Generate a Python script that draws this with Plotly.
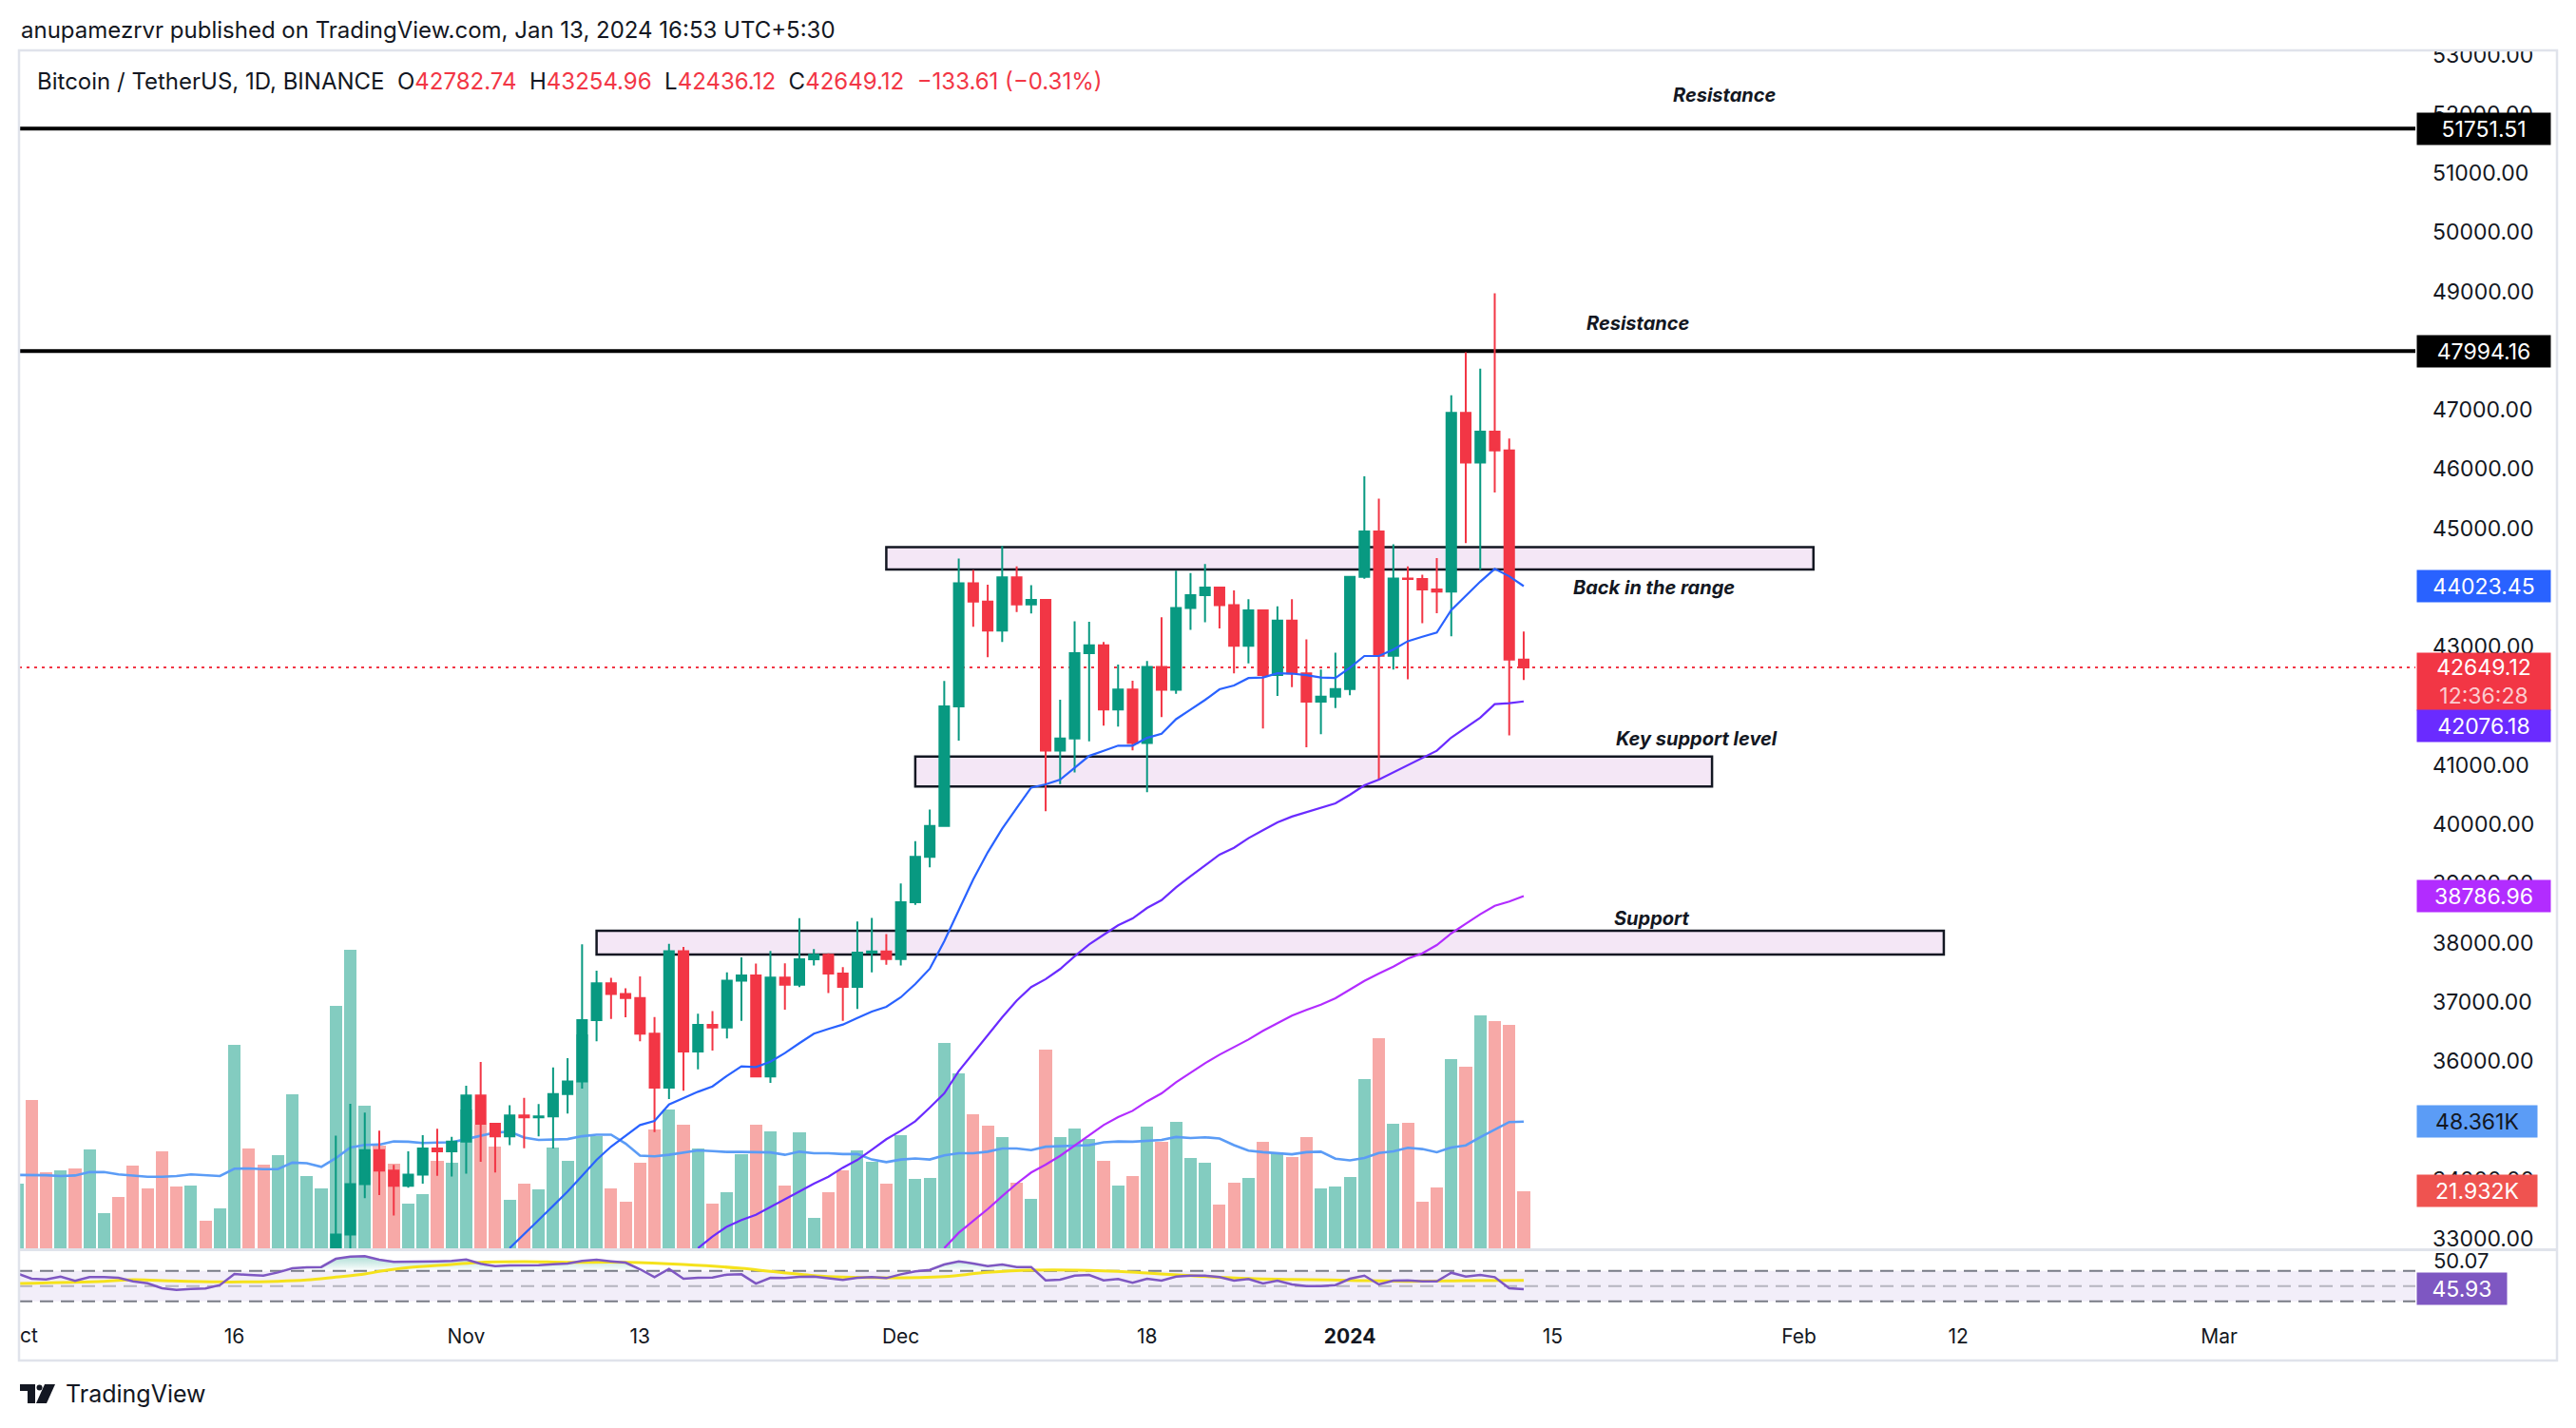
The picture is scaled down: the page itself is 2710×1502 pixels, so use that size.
import pandas as pd
import plotly.graph_objects as go

# ---------------------------
# page geometry (px) - plot area edges inside the 2710x1502 page
# ---------------------------
W, H = 2710, 1502
L, R, T, B = 20, 2541, 55, 1395
VOL_PX = 0.363          # volume (K) per pixel in the price pane
PANE_BOTTOM = 1313      # bottom of price pane
RSI_TOP = 1315


def px(x):
    return (x - L) / (R - L)


def py(y):
    return (B - y) / (B - T)


FONT = "Inter, Roboto, sans-serif"
GREEN = "#089981"
RED = "#f23645"
TXT = "#131722"

# ---------------------------
# data: BTCUSDT daily, Oct 1 2023 - Jan 13 2024
# ---------------------------
dates = pd.date_range("2023-10-01", "2024-01-13", freq="D")

opens = [
    26962, 27983, 27505, 27429, 27794, 27410, 27931, 27956, 27917, 27590,
    27392, 26875, 26757, 26862, 26852, 27154, 28500, 28395, 28320, 28713,
    29669, 29909, 29992, 33069, 33922, 34496, 34152, 33892, 34081, 34525,
    34474,
    34639, 35421, 34941, 34730, 35083, 35048, 35065, 35443, 35655, 36693,
    37314, 37133, 37064, 36462, 35551, 37858, 36163, 36613, 36568, 37359,
    37448, 35741, 37409, 37290, 37720, 37796, 37479, 37254, 37832, 37854,
    37723, 38682, 39450, 39972, 41991, 44073, 43762, 43273, 44170, 43713,
    43789, 41243, 41450, 42891, 43022, 41941, 42278, 41374, 42657, 42271,
    43652, 43869, 43997, 43700, 43016, 43613, 42520, 43442, 42550, 42070,
    42156,
    42283, 44180, 44946, 42845, 44151, 44145, 43968, 43929, 46951, 46110,
    46632, 46314, 42782.74,
]
highs = [
    28065, 28580, 27668, 27830, 28120, 28295, 28000, 28100, 27987, 27735,
    27477, 26947, 27130, 26989, 27289, 30000, 28613, 28982, 28916, 30207,
    30379, 30206, 34741, 35280, 35132, 34824, 34245, 34477, 34750, 34856,
    34720,
    35582, 35984, 34945, 35255, 35380, 35275, 35892, 36050, 37972, 37526,
    37407, 37228, 37430, 36744, 37980, 37929, 36800, 36845, 37500, 37750,
    37649, 37861, 37653, 38415, 37892, 37820, 37589, 38360, 38420, 38145,
    38999, 39717, 40250, 42420, 44488, 44297, 44047, 44700, 44358, 44038,
    43804, 42104, 43430, 43420, 43080, 42700, 42424, 42757, 43497, 44283,
    44242, 44398, 43997, 43950, 43802, 43613, 43683, 43804, 43124, 42612,
    42899,
    44184, 45879, 45500, 44729, 44357, 44214, 44495, 47248, 47972, 47695,
    48969, 46516, 43254.96,
]
lows = [
    26954, 27280, 27160, 27216, 27365, 27175, 27842, 27711, 27260, 27298,
    26538, 26557, 26685, 26777, 26800, 27113, 28069, 28140, 28175, 28566,
    29481, 29664, 29883, 32832, 33684, 33737, 33391, 33860, 33930, 34062,
    34050,
    34097, 34300, 34120, 34582, 34528, 34728, 34525, 35115, 35534, 36333,
    36712, 36742, 36333, 34800, 35361, 35500, 35861, 36178, 36384, 36678,
    35735, 35632, 36868, 37251, 37617, 37150, 36681, 36882, 37500, 37629,
    37615, 38641, 39274, 39972, 41414, 43335, 42821, 43081, 43584, 43563,
    40222, 40680, 40875, 41400, 41666, 41650, 41250, 40542, 41811, 42206,
    43286, 43413, 43308, 42550, 42720, 41620, 42167, 42318, 41300, 41520,
    41965,
    42181, 44148, 40750, 42613, 42450, 43397, 43566, 43175, 44748, 44300,
    45606, 41500, 42436.12,
]
closes = [
    27983, 27505, 27429, 27794, 27410, 27931, 27956, 27917, 27590, 27392,
    26875, 26757, 26862, 26852, 27154, 28500, 28395, 28320, 28713, 29669,
    29909, 29992, 33069, 33922, 34496, 34152, 33892, 34081, 34525, 34474,
    34639,
    35421, 34941, 34730, 35083, 35048, 35065, 35443, 35655, 36693, 37314,
    37133, 37064, 36462, 35551, 37858, 36163, 36613, 36568, 37359, 37448,
    35741, 37409, 37290, 37720, 37796, 37479, 37254, 37832, 37854, 37723,
    38682, 39450, 39972, 41991, 44073, 43762, 43273, 44170, 43713, 43789,
    41243, 41450, 42891, 43022, 41941, 42278, 41374, 42657, 42271, 43652,
    43869, 43997, 43700, 43016, 43613, 42520, 43442, 42550, 42070, 42156,
    42283,
    44180, 44946, 42845, 44151, 44145, 43968, 43929, 46951, 46110, 46632,
    46314, 42782.73, 42649.12,
]
# volume, thousands of BTC
volumes = [
    24.7, 56.6, 29.0, 29.8, 30.5, 37.8, 13.4, 19.6, 31.6, 22.9,
    37.0, 23.6, 24.0, 10.5, 15.2, 77.7, 38.1, 31.9, 35.6, 58.8,
    27.6, 22.9, 92.6, 114.0, 54.5, 39.2, 32.3, 17.1, 20.7, 33.4,
    32.7,
    53.0, 47.2, 39.0, 18.6, 24.8, 22.6, 38.6, 33.5, 81.7, 42.9,
    23.0, 17.9, 32.8, 45.5, 53.1, 47.3, 38.2, 17.2, 21.5, 36.0,
    47.3, 44.8, 24.1, 44.4, 11.7, 21.5, 29.9, 37.5, 33.1, 24.8,
    43.3, 26.6, 27.0, 78.5, 66.9, 51.3, 46.9, 42.6, 25.2, 19.0,
    76.0, 42.6, 45.6, 41.6, 33.3, 23.8, 27.5, 46.4, 40.5, 48.2,
    34.4, 32.6, 16.6, 24.9, 26.8, 40.5, 36.3, 34.7, 42.4, 22.8,
    23.5,
    27.1, 64.5, 80.1, 47.4, 47.8, 17.7, 23.1, 72.1, 69.2, 88.8,
    86.6, 85.2, 21.932,
]
vol_ma = [
    28.0, 28.0, 27.9, 27.6, 27.8, 29.1, 29.1, 28.2, 27.8, 27.3,
    27.3, 27.6, 28.2, 28.0, 27.6, 30.4, 30.5, 30.2, 30.2, 32.7,
    32.5, 31.1, 34.4, 38.5, 39.5, 39.6, 40.8, 40.7, 40.2, 40.4,
    40.5,
    41.7, 42.9, 44.2, 44.5, 42.3, 41.4, 41.5, 41.7, 42.8, 43.4,
    43.4, 40.0, 35.4, 35.1, 35.7, 36.6, 37.4, 37.1, 36.8, 36.8,
    36.8, 36.6, 35.7, 36.9, 36.3, 36.3, 36.0, 36.0, 33.9, 32.9,
    33.9, 34.3, 33.9, 35.5, 36.3, 36.3, 36.9, 38.1, 38.1, 37.5,
    38.8, 39.0, 39.3, 39.4, 40.5, 40.8, 40.7, 41.0, 41.4, 42.5,
    42.1, 42.4, 41.9, 39.4, 37.3, 36.7, 36.2, 35.9, 36.7, 36.9,
    34.2,
    33.6, 34.5, 36.4, 37.0, 38.4, 37.9, 36.7, 38.5, 39.3, 42.4,
    45.4, 48.2, 48.361,
]

ema20_start = "2023-11-04"
ema20 = [
    32840, 33070, 33315, 33555, 33797, 34063, 34332, 34556, 34733, 34920,
    34990, 35267, 35375, 35482, 35573, 35750, 35910, 35900, 35990, 36135,
    36302, 36462, 36543, 36617, 36730, 36837, 36917,
    37078, 37303, 37560, 38026, 38560, 39070, 39525, 39925, 40275, 40620,
    40675, 40755, 40955, 41155, 41242, 41328, 41328, 41460, 41530, 41775,
    41937, 42100, 42280, 42345, 42470, 42480, 42550, 42545, 42518, 42480,
    42470,
    42644, 42843, 42843, 42952, 43093, 43168, 43240, 43620, 43864, 44098,
    44315, 44190, 44023.45,
]
ema50_start = "2023-11-17"
ema50 = [
    32840, 33035, 33205, 33315, 33405, 33540, 33665, 33797, 33930, 34047,
    34200, 34330, 34503, 34680,
    34823, 34984, 35215, 35455, 35830, 36130, 36430, 36740, 37020, 37250,
    37385, 37555, 37770, 37972, 38133, 38293, 38410, 38587, 38720, 38935,
    39122, 39310, 39487, 39604, 39765, 39900, 40033, 40130, 40205, 40273,
    40354,
    40498, 40659, 40755, 40880, 41005, 41125, 41242, 41465, 41638, 41800,
    42030, 42046, 42076.18,
]
ema100_start = "2023-12-04"
ema100 = [
    32840, 33100, 33300, 33500, 33720, 33930, 34118, 34250, 34400, 34573,
    34760, 34920, 35054, 35160, 35320, 35455, 35643, 35803, 35964, 36108,
    36231, 36365, 36510, 36644, 36767, 36863, 36954, 37061,
    37206, 37355, 37479, 37596, 37731, 37820, 37960, 38158, 38319, 38480,
    38624, 38695, 38786.96,
]

rsi = [
    66.7, 59.6, 58.8, 62.5, 56.7, 61.7, 61.7, 60.8, 56.2, 53.7,
    47.1, 45.0, 46.2, 46.7, 51.2, 65.8, 64.6, 63.7, 67.9, 73.3,
    74.6, 75.0, 85.8, 88.7, 89.2, 84.6, 81.7, 81.7, 82.5, 82.5,
    82.9,
    85.0, 79.2, 76.2, 77.1, 77.1, 77.5, 78.7, 79.6, 82.9, 84.6,
    82.5, 80.8, 72.1, 61.7, 72.5, 59.6, 60.8, 61.2, 65.0, 65.4,
    53.3, 60.8, 60.4, 62.1, 62.5, 60.4, 57.9, 60.8, 61.7, 60.4,
    65.4, 69.2, 71.2, 78.3, 82.5, 79.6, 76.2, 78.3, 75.0, 75.0,
    57.5, 58.3, 63.7, 64.6, 57.5, 59.2, 54.2, 59.6, 57.1, 62.5,
    63.7, 63.7, 61.7, 57.1, 59.2, 53.3, 57.1, 52.1, 50.0, 50.0,
    51.2,
    59.6, 63.7, 52.1, 57.1, 57.5, 56.2, 56.2, 67.5, 62.5, 64.6,
    61.7, 47.1, 45.93,
]
rsi_ma_day = [0, 6, 8, 10, 14, 18, 20, 22, 24, 25, 27, 30, 32, 35, 38, 42, 46,
              50, 52, 55, 57, 60, 64, 67, 70, 75, 78, 81, 85, 88, 92, 96, 100, 104]
rsi_ma = [53.3, 56.2, 58.3, 57.1, 55.4, 56.2, 57.9, 61.7, 65.8, 69.2, 74.2,
          78.3, 81.2, 82.1, 81.2, 81.2, 78.3, 73.3, 69.2, 63.7, 61.7, 60.8,
          62.5, 67.9, 70.8, 70.0, 67.1, 63.7, 60.0, 58.8, 57.5, 56.2, 57.1, 57.5]

# drawings
h_levels = [51751.51, 47994.16]
last_price = 42649.12
zones = [  # (start, end, low, high)
    ("2023-11-30", "2024-02-02", 44305, 44680),
    ("2023-12-02", "2024-01-26", 40640, 41145),
    ("2023-11-10", "2024-02-11", 37800, 38200),
]
notes = [  # (text, x px, y px)
    ("Resistance", 1814, 100),
    ("Resistance", 1723, 340),
    ("Back in the range", 1740, 618),
    ("Key support level", 1785, 777),
    ("Support", 1738, 966),
]

# ticks that the scale tags fully cover are left out
price_ticks = [33000, 34000, 36000, 37000, 38000, 39000, 40000, 41000,
               43000, 45000, 46000, 47000, 49000, 50000,
               51000, 52000, 53000]
time_ticks = ["2023-10-16", "2023-11-01", "2023-11-13", "2023-12-01", "2023-12-18",
              "2024-01-01", "2024-01-15", "2024-02-01", "2024-02-12", "2024-03-01"]
time_labels = ["16", "Nov", "13", "Dec", "18", "<b>2024</b>", "15", "Feb", "12", "Mar"]

# ---------------------------
# figure
# ---------------------------
fig = go.Figure()

vol_colors = ["rgba(8,153,129,0.5)" if c >= o else "rgba(239,83,80,0.5)"
              for o, c in zip(opens, closes)]
fig.add_trace(go.Bar(x=dates, y=volumes, marker_color=vol_colors,
                     marker_line_width=0, width=0.86 * 86400000,
                     xaxis="x", yaxis="y"))
fig.add_trace(go.Scatter(x=dates, y=vol_ma, mode="lines",
                         line=dict(color="#5b9cf6", width=2.6),
                         xaxis="x", yaxis="y"))

fig.add_trace(go.Candlestick(
    x=dates, open=opens, high=highs, low=lows, close=closes,
    increasing=dict(line=dict(color=GREEN, width=2), fillcolor=GREEN),
    decreasing=dict(line=dict(color=RED, width=2), fillcolor=RED),
    whiskerwidth=0, xaxis="x", yaxis="y2"))

for start, vals, col in [(ema20_start, ema20, "#2962ff"),
                         (ema50_start, ema50, "#6a2bff"),
                         (ema100_start, ema100, "#b22cff")]:
    xs = pd.date_range(start, periods=len(vals), freq="D")
    fig.add_trace(go.Scatter(x=xs, y=vals, mode="lines",
                             line=dict(color=col, width=2.2),
                             xaxis="x", yaxis="y2"))

# RSI pane
fig.add_trace(go.Scatter(x=dates, y=[70] * len(dates), mode="lines",
                         line=dict(width=0), xaxis="x", yaxis="y3"))
fig.add_trace(go.Scatter(
    x=dates, y=[max(v, 70) for v in rsi], mode="lines", line=dict(width=0),
    fill="tonexty",
    fillgradient=dict(type="vertical", start=70, stop=90,
                      colorscale=[[0, "rgba(8,153,129,0)"], [1, "rgba(8,153,129,0.35)"]]),
    xaxis="x", yaxis="y3"))
fig.add_trace(go.Scatter(x=[dates[i] for i in rsi_ma_day], y=rsi_ma, mode="lines",
                         line=dict(color="#f5e21c", width=3, shape="spline"),
                         xaxis="x", yaxis="y3"))
fig.add_trace(go.Scatter(x=dates, y=rsi, mode="lines",
                         line=dict(color="#7e57c2", width=2.5),
                         xaxis="x", yaxis="y3"))

# ---------------------------
# shapes
# ---------------------------
shapes = []
# RSI band + levels
shapes.append(dict(type="rect", xref="paper", yref="y3", x0=0, x1=1, y0=30, y1=70,
                   fillcolor="rgba(126,87,194,0.1)", line_width=0, layer="below"))
for lvl, col in [(70, "#787b86"), (50, "rgba(120,123,134,0.5)"), (30, "#787b86")]:
    shapes.append(dict(type="line", xref="paper", yref="y3", x0=0, x1=1, y0=lvl, y1=lvl,
                       line=dict(color=col, width=2, dash="14px,8px"), layer="below"))
# zones
for x0, x1, y0, y1 in zones:
    shapes.append(dict(type="rect", xref="x", yref="y2", x0=x0, x1=x1, y0=y0, y1=y1,
                       fillcolor="rgba(206,147,216,0.22)",
                       line=dict(color=TXT, width=2.5), layer="below"))
# resistance lines
for lvl in h_levels:
    shapes.append(dict(type="line", xref="paper", yref="y2", x0=0, x1=1, y0=lvl, y1=lvl,
                       line=dict(color="#000000", width=4), layer="below"))
shapes.append(dict(type="line", xref="paper", yref="y2", x0=0, x1=1,
                   y0=last_price, y1=last_price,
                   line=dict(color=RED, width=2, dash="3px,5px"), layer="below"))
# cover above the pane on the price scale, frame and pane separator
shapes.append(dict(type="rect", xref="paper", yref="paper", x0=px(2541), x1=px(2700),
                   y0=py(0), y1=py(53.5), fillcolor="white", line_width=0, layer="above"))
shapes.append(dict(type="rect", xref="paper", yref="paper", x0=px(20), x1=px(2690),
                   y0=py(53), y1=py(1431), line=dict(color="#e0e3eb", width=2.5),
                   layer="above"))
shapes.append(dict(type="line", xref="paper", yref="paper", x0=px(20), x1=px(2690),
                   y0=py(1314.5), y1=py(1314.5), line=dict(color="#e0e3eb", width=3),
                   layer="above"))
# TradingView logo


def path(points):
    return "M " + " L ".join(f"{px(x)},{py(y)}" for x, y in points) + " Z"


logo = dict(xref="paper", yref="paper", fillcolor=TXT, line_width=0, layer="above")
shapes.append(dict(type="path", path=path([(21, 1456), (37, 1456), (37, 1476), (29, 1476),
                                           (29, 1463), (21, 1463)]), **logo))
shapes.append(dict(type="circle", x0=px(38.5), x1=px(44.5), y0=py(1456.5), y1=py(1462.5),
                   **logo))
shapes.append(dict(type="path", path=path([(47, 1456), (58, 1456), (49, 1476), (38, 1476)]),
                   **logo))

# ---------------------------
# annotations
# ---------------------------
ann = []
ann.append(dict(text="anupamezrvr published on TradingView.com, Jan 13, 2024 16:53 UTC+5:30",
                x=px(20), y=py(32), xanchor="left", yanchor="middle",
                font=dict(size=24, color=TXT)))
sp = "\u00a0\u00a0"
red = lambda s: f"<span style='color:{RED}'>{s}</span>"
legend = ("Bitcoin / TetherUS, 1D, BINANCE" + sp + "O" + red("42782.74") + sp + "H" +
          red("43254.96") + sp + "L" + red("42436.12") + sp + "C" + red("42649.12") +
          sp + red("\u2212133.61 (\u22120.31%)"))
ann.append(dict(text=legend, x=px(37), y=py(86), xanchor="left", yanchor="middle",
                font=dict(size=24, color=TXT)))
for text, x, y in notes:
    ann.append(dict(text=f"<b><i>{text}</i></b>", x=px(x), y=py(y), xanchor="center",
                    yanchor="middle", font=dict(size=20, color=TXT)))

# price scale tags
tags = [  # (value, yref, text, bg, fg, yshift, width, height)
    (51751.51, "y2", "51751.51", "#000000", "white", 0, 134, 27),
    (47994.16, "y2", "47994.16", "#000000", "white", 0, 134, 27),
    (44023.45, "y2", "44023.45", "#2962ff", "white", 0, 134, 27),
    (42649.12, "y2", "42649.12<br><span style='color:rgba(255,255,255,0.75)'>12:36:28</span>",
     RED, "white", -15, 134, 54),
    (42076.18, "y2", "42076.18", "#6a2bff", "white", -26, 134, 27),
    (38786.96, "y2", "38786.96", "#b22cff", "white", 0, 134, 27),
    (48.361, "y", "48.361K", "#5b9cf6", TXT, 0, 120, 27),
    (21.932, "y", "21.932K", "#ef5350", "white", 0, 120, 27),
    (45.93, "y3", "45.93", "#7e57c2", "white", 0, 88, 27),
]
for val, yref, text, bg, fg, ys, w, h in tags:
    ann.append(dict(text=text, x=px(2542), xanchor="left", y=val, yref=yref,
                    yanchor="middle", yshift=ys, bgcolor=bg, width=w, height=h,
                    borderpad=3, align="center", font=dict(size=23, color=fg)))
ann.append(dict(text="50.07", x=px(2558), y=py(1326), xanchor="left", yanchor="middle",
                font=dict(size=22, color=TXT)))
ann.append(dict(text="ct", x=px(19), y=py(1404), xanchor="left", yanchor="middle",
                font=dict(size=21, color=TXT)))
ann.append(dict(text="TradingView", x=px(67), y=py(1466), xanchor="left",
                yanchor="middle", font=dict(size=25, color=TXT)))
for a in ann:
    a.setdefault("xref", "paper")
    a.setdefault("yref", "paper")
    a["showarrow"] = False

# ---------------------------
# layout
# ---------------------------
fig.update_layout(
    width=W, height=H, autosize=False,
    margin=dict(l=L, r=W - R, t=T, b=H - B, pad=0),
    paper_bgcolor="white", plot_bgcolor="white",
    showlegend=False, font=dict(family=FONT, color=TXT),
    boxgap=0.34, boxgroupgap=0, bargap=0,
    shapes=shapes, annotations=ann,
    xaxis=dict(type="date", anchor="y3", range=["2023-10-01 03:09", "2024-03-14 13:12"],
               tickvals=time_ticks, ticktext=time_labels, ticks="", showgrid=False,
               zeroline=False, showline=False, rangeslider=dict(visible=False),
               ticklabelstandoff=-4, tickfont=dict(size=21, color=TXT)),
    yaxis=dict(domain=[py(PANE_BOTTOM), 1], range=[0, (PANE_BOTTOM - T) * VOL_PX],
               visible=False, fixedrange=True),
    yaxis2=dict(overlaying="y", side="right", anchor="x",
                range=[53000 - (PANE_BOTTOM - 57.5) / 0.06227, 53000 + 2.5 / 0.06227],
                tickvals=price_ticks, tickformat=".2f", ticks="", showgrid=False,
                zeroline=False, showline=False, ticklabelstandoff=17,
                tickfont=dict(size=23, color=TXT)),
    yaxis3=dict(domain=[0, py(RSI_TOP)], range=[-2.9, 97.1], anchor="x", visible=False),
)

fig.write_html("out.html", config={"displayModeBar": False},
               post_script="document.body.style.margin='0px';")
